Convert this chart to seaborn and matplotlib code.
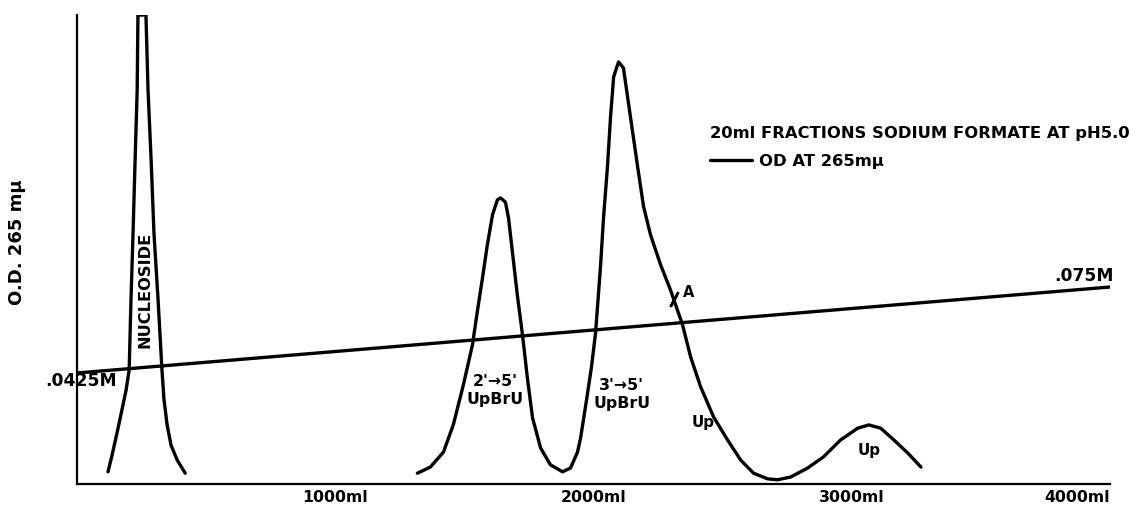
import matplotlib
matplotlib.use('Agg')
import matplotlib.pyplot as plt
import seaborn as sns
import pandas as pd
import numpy as np

# effluent volume (ml) and optical density
nucleoside_ml = [120, 136, 155, 174, 190, 202, 209, 217, 225, 233, 236,
                 267, 275, 287, 298, 314, 329, 337, 349, 364, 388, 419]
nucleoside_od = [0.026, 0.062, 0.109, 0.158, 0.200, 0.243, 0.392, 0.535, 0.691, 0.840, 1.0,
                 1.0, 0.840, 0.691, 0.535, 0.392, 0.243, 0.179, 0.126, 0.083, 0.051, 0.023]

main_ml = [1318, 1368, 1419, 1457, 1496, 1531, 1550, 1570, 1589, 1609, 1628, 1640, 1659,
           1671, 1686, 1705, 1725, 1744, 1764, 1795, 1833, 1880, 1911, 1938, 1950, 1973,
           1992, 2008, 2027, 2039, 2054, 2066, 2078, 2097, 2116, 2143, 2171, 2194, 2221,
           2260, 2298, 2345, 2376, 2415, 2465, 2519, 2570, 2620, 2674, 2713, 2764, 2829,
           2891, 2957, 3023, 3066, 3112, 3163, 3217, 3268]
main_od = [0.023, 0.036, 0.068, 0.126, 0.211, 0.296, 0.367, 0.439, 0.510, 0.574, 0.606,
           0.610, 0.601, 0.567, 0.495, 0.403, 0.318, 0.226, 0.141, 0.077, 0.041, 0.026,
           0.034, 0.068, 0.098, 0.179, 0.249, 0.322, 0.463, 0.569, 0.676, 0.783, 0.868,
           0.900, 0.887, 0.783, 0.676, 0.591, 0.531, 0.467, 0.414, 0.339, 0.271, 0.207,
           0.143, 0.094, 0.051, 0.023, 0.011, 0.009, 0.015, 0.034, 0.058, 0.094, 0.119,
           0.126, 0.119, 0.094, 0.066, 0.036]

# point A marked on the 3'->5' peak
point_a_ml = 2310
point_a_od = 0.394

# linear sodium formate gradient
gradient_ml = [0, 4000]
gradient_m = [0.0425, 0.075]

xticks = [1000, 2000, 3000, 4000]
xtick_labels = ['1000ml', '2000ml', '3000ml', '4000ml']

sns.set_style('white')
plt.rcParams['font.family'] = ['DejaVu Sans']
plt.rcParams['font.weight'] = 'bold'
plt.rcParams['text.color'] = 'black'
plt.rcParams['axes.labelcolor'] = 'black'
plt.rcParams['xtick.color'] = 'black'

fig = plt.figure(figsize=(11.38, 5.08), dpi=100)
ax = fig.add_axes([77 / 1138, 24 / 508, 1033 / 1138, 469 / 508])

lw = 2.4
sns.lineplot(x=nucleoside_ml, y=nucleoside_od, ax=ax, color='black', lw=lw,
             sort=False, estimator=None, label='OD AT 265mμ')
sns.lineplot(x=main_ml, y=main_od, ax=ax, color='black', lw=lw, sort=False, estimator=None)

ax.plot([point_a_ml], [point_a_od], marker=(2, 2, -28), ms=12, mew=1.8, color='black')
ax.text(point_a_ml + 38, point_a_od + 0.015, 'A', fontsize=10.5, fontweight='bold',
        va='center', ha='left')

ax.set_xlim(0, 4000)
ax.set_ylim(0, 1.0)
ax.set_xticks(xticks)
ax.set_xticklabels(xtick_labels)
ax.get_xticklabels()[-1].set_ha('right')
ax.set_yticks([])
ax.tick_params(axis='x', direction='in', length=5, width=1.5, pad=4, labelsize=11.3)
for s in ['top', 'right']:
    ax.spines[s].set_visible(False)
for s in ['left', 'bottom']:
    ax.spines[s].set_linewidth(1.6)
    ax.spines[s].set_color('black')

ax.set_ylabel('O.D. 265 mμ', fontsize=13, fontweight='bold')
ax.yaxis.set_label_coords(-0.049, 0.516)

# molarity on a hidden twin axis
ax2 = ax.twinx()
sns.lineplot(x=gradient_ml, y=gradient_m, ax=ax2, color='black', lw=lw, legend=False)
ax2.set_ylim(0.00055, 0.1778)
ax2.set_yticks([])
ax2.set_ylabel('')
for s in ax2.spines.values():
    s.set_visible(False)
ax2.text(155, 0.0395, '.0425M', fontsize=12.3, fontweight='bold', ha='right', va='center')
ax2.text(4016, 0.0792, '.075M', fontsize=12.3, fontweight='bold', ha='right', va='center')

# peak labels
ax.text(264, 0.414, 'NUCLEOSIDE', rotation=90, fontsize=11.7, fontweight='bold',
        ha='center', va='center')
ax.text(1620, 0.200, "2'→5'\nUpBrU", fontsize=11.3, fontweight='bold',
        ha='center', va='center', linespacing=1.25)
ax.text(2109, 0.190, "3'→5'\nUpBrU", fontsize=11.3, fontweight='bold',
        ha='center', va='center', linespacing=1.25)
ax.text(2426, 0.132, 'Up', fontsize=10.8, fontweight='bold', ha='center', va='center')
ax.text(3066, 0.072, 'Up', fontsize=10.8, fontweight='bold', ha='center', va='center')

leg = ax.legend(title='20ml FRACTIONS SODIUM FORMATE AT pH5.0', loc='upper left',
                bbox_to_anchor=(0.606, 0.778), frameon=False, fontsize=11.8,
                title_fontsize=11.8, handlelength=2.6, handletextpad=0.43,
                labelspacing=0.8, alignment='left', borderaxespad=0)
leg.get_title().set_fontweight('bold')
for t in leg.get_texts():
    t.set_fontweight('bold')

fig.savefig('out.png', dpi=100, facecolor='white')
